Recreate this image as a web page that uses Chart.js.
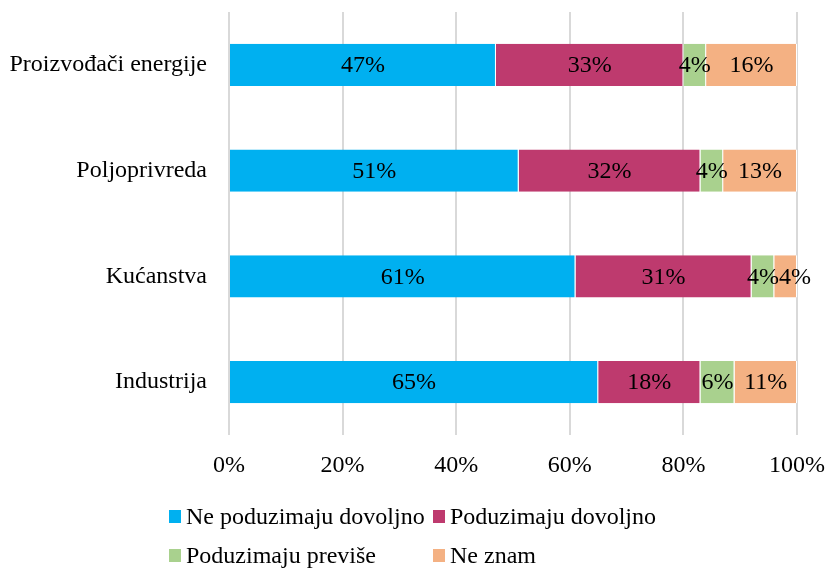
<!DOCTYPE html>
<html>
<head>
<meta charset="utf-8">
<script src="https://cdn.jsdelivr.net/npm/chart.js@4"></script>
<style>
  html, body { margin: 0; padding: 0; background: #fff; }
  #wrap { position: relative; width: 826px; height: 568px; }
  #legend { position: absolute; left: 169px; top: 500px; width: 620px;
            font-family: "Liberation Serif", "Times New Roman", serif; font-size: 24px; color: #000; }
  .item { position: absolute; white-space: nowrap; line-height: 28px; }
  .box { display: inline-block; width: 12px; height: 13px; margin-right: 5px; vertical-align: 1px; }
</style>
</head>
<body>
<div id="wrap">
  <canvas id="c" width="826" height="568"></canvas>
  <div id="legend"></div>
</div>
<script>
// ---- data ----
const categories = ['Proizvođači energije', 'Poljoprivreda', 'Kućanstva', 'Industrija'];
const seriesNames = ['Ne poduzimaju dovoljno', 'Poduzimaju dovoljno', 'Poduzimaju previše', 'Ne znam'];
const neDovoljno = [47, 51, 61, 65];
const dovoljno = [33, 32, 31, 18];
const previse = [4, 4, 4, 6];
const neZnam = [16, 13, 4, 11];
const xTicks = [0, 20, 40, 60, 80, 100];

const colors = ['#00B0F0', '#BE3A6E', '#A9D18E', '#F4B183'];
const FONT = '"Liberation Serif", "Times New Roman", serif';

// labels in the middle of each segment; a label that would overlap the
// previous one in the same row is nudged right (as the original does)
const segLabels = {
  id: 'segLabels',
  afterDatasetsDraw(chart) {
    const ctx = chart.ctx;
    ctx.save();
    ctx.font = '24px ' + FONT;
    ctx.fillStyle = '#000';
    ctx.textAlign = 'center';
    ctx.textBaseline = 'middle';
    const rowRight = {};
    chart.data.datasets.forEach((ds, i) => {
      chart.getDatasetMeta(i).data.forEach((bar, j) => {
        const txt = ds.data[j] + '%';
        const w = ctx.measureText(txt).width;
        let cx = (bar.x + bar.base) / 2;
        const prev = rowRight[j];
        if (prev !== undefined && cx - w / 2 < prev) cx = prev + w / 2;
        rowRight[j] = cx + w / 2;
        ctx.fillText(txt, cx, bar.y + 1);
      });
    });
    ctx.restore();
  },
};

const seriesData = [neDovoljno, dovoljno, previse, neZnam];

new Chart(document.getElementById('c'), {
  type: 'bar',
  data: {
    labels: categories,
    datasets: seriesNames.map((name, i) => ({
      label: name,
      data: seriesData[i],
      backgroundColor: colors[i],
      borderColor: '#ffffff',
      borderWidth: { right: 1, left: 0, top: 0, bottom: 0 },
      borderSkipped: false,
      categoryPercentage: 0.4,
      barPercentage: 1,
    })),
  },
  options: {
    indexAxis: 'y',
    responsive: false,
    animation: false,
    events: [],
    layout: { padding: { top: 12, right: 29, bottom: 93, left: 0 } },
    plugins: { legend: { display: false }, tooltip: { enabled: false } },
    scales: {
      x: {
        stacked: true,
        min: 0,
        max: 100,
        afterBuildTicks: (s) => { s.ticks = xTicks.map((v) => ({ value: v })); },
        afterFit: (s) => { s.height = 40; s.paddingLeft = 0; s.paddingRight = 0; },
        border: { display: false },
        grid: { color: '#D9D9D9', lineWidth: 2, drawTicks: false },
        ticks: { color: '#000', padding: 16, font: { family: FONT, size: 24 }, callback: (v) => v + '%' },
      },
      y: {
        stacked: true,
        afterFit: (s) => { s.width = 229; s.paddingTop = 0; s.paddingBottom = 0; },
        border: { display: false },
        grid: { display: false },
        ticks: { color: '#000', padding: 14, font: { family: FONT, size: 24 } },
      },
    },
  },
  plugins: [segLabels],
});

// legend (two aligned columns)
const legend = document.getElementById('legend');
const pos = [[0, 2], [264, 2], [0, 41], [264, 41]];
seriesNames.forEach((name, i) => {
  const el = document.createElement('div');
  el.className = 'item';
  el.style.left = pos[i][0] + 'px';
  el.style.top = pos[i][1] + 'px';
  el.innerHTML = '<span class="box" style="background:' + colors[i] + '"></span>' + name;
  legend.appendChild(el);
});
</script>
</body>
</html>
